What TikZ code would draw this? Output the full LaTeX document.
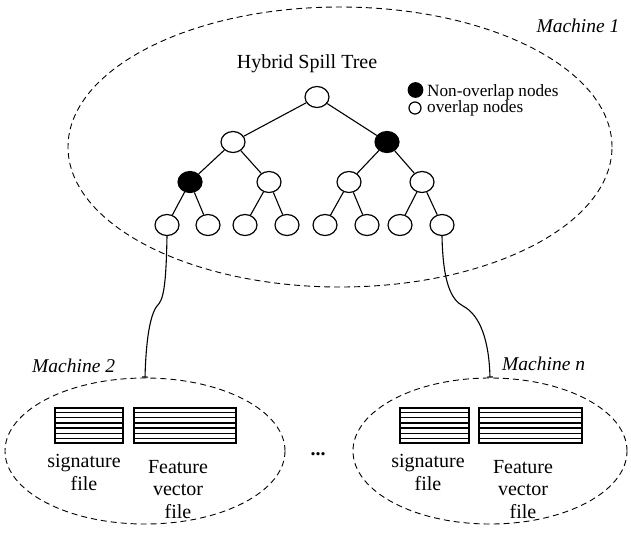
\documentclass[tikz,border=0pt]{standalone}
\usepackage{fontspec}
\setmainfont{Liberation Serif}
\usetikzlibrary{arrows.meta,shapes.geometric,calc}
\begin{document}
\begin{tikzpicture}[x=1pt,y=-1pt,
  tn/.style={draw, ellipse, minimum width=24pt, minimum height=21pt, inner sep=0pt, line width=1.2pt, fill=white},
  bn/.style={tn, fill=black},
  tedge/.style={line width=1.1pt},
  mach/.style={draw, dashed, dash pattern=on 6pt off 4pt, ellipse, line width=0.9pt, inner sep=0pt},
  mlabel/.style={font=\fontsize{19.5}{22}\selectfont\itshape, inner sep=0pt},
  txt/.style={font=\fontsize{20}{22.5}\selectfont, inner sep=0pt, align=center},
  legtxt/.style={font=\fontsize{17.2}{19}\selectfont, inner sep=0pt, anchor=base west},
  filebox/.style={draw, line width=1.4pt, inner sep=0pt, minimum height=35pt},
  conn/.style={line width=1.1pt, -{Bar[width=6pt]}}
]
\useasboundingbox (0,0) rectangle (631,539);

% machine ellipses
\node[mach, minimum width=544pt, minimum height=280pt] (m1) at (340,147) {};
\node[mach, minimum width=280pt, minimum height=146pt] (m2) at (145,451) {};
\node[mach, minimum width=274pt, minimum height=146pt] (mn) at (490,451) {};

% labels
\node[mlabel, anchor=base] (lm1) at (578,32) {Machine 1};
\node[mlabel, anchor=base west] (lm2) at (32,372) {Machine 2};
\node[mlabel, anchor=base west] (lmn) at (502,370) {Machine n};
\node[txt, anchor=base] (title) at (307,68) {Hybrid Spill Tree};

% tree
\node[tn] (r) at (317,97) {};
\node[tn] (a) at (233,142) {};
\node[bn] (b) at (387,142) {};
\node[bn] (aa) at (190,182) {};
\node[tn] (ab) at (269,182) {};
\node[tn] (ba) at (349,182) {};
\node[tn] (bb) at (422,182) {};
\node[tn] (l1) at (167,225) {};
\node[tn] (l2) at (208,225) {};
\node[tn] (l3) at (245,225) {};
\node[tn] (l4) at (287,225) {};
\node[tn] (l5) at (325,225) {};
\node[tn] (l6) at (367,225) {};
\node[tn] (l7) at (400,225) {};
\node[tn] (l8) at (442,225) {};

\draw[tedge] (r) -- (a);
\draw[tedge] (r) -- (b);
\draw[tedge] (a) -- (aa);
\draw[tedge] (a) -- (ab);
\draw[tedge] (b) -- (ba);
\draw[tedge] (b) -- (bb);
\draw[tedge] (aa) -- (l1);
\draw[tedge] (aa) -- (l2);
\draw[tedge] (ab) -- (l3);
\draw[tedge] (ab) -- (l4);
\draw[tedge] (ba) -- (l5);
\draw[tedge] (ba) -- (l6);
\draw[tedge] (bb) -- (l7);
\draw[tedge] (bb) -- (l8);

% legend
\node[bn, minimum width=14.5pt, minimum height=14.5pt] (lgb) at (415.5,90) {};
\node[tn, minimum width=12pt, minimum height=12pt] (lgw) at (415,108) {};
\node[legtxt] (lgbt) at (427,96) {Non-overlap nodes};
\node[legtxt] (lgwt) at (427,112.5) {overlap nodes};

% connectors
\draw[conn] (l1.south) .. controls (166,290) and (163,300) .. (157,306)
  .. controls (150,315) and (146,340) .. (m2.north);
\draw[conn] (l8.south) .. controls (443,285) and (452,300) .. (463,306)
  .. controls (480,315) and (489,340) .. (mn.north);

% files machine 2
\node[filebox, minimum width=68pt] (sig2) at (89,425.5) {};
\node[filebox, minimum width=102pt] (fv2) at (185,425.5) {};
% files machine n
\node[filebox, minimum width=69pt] (sign) at (434.5,425.5) {};
\node[filebox, minimum width=103pt] (fvn) at (530.5,425.5) {};
\foreach \f in {sig2,fv2,sign,fvn}{
  \foreach \i in {1,...,6}{
    \draw[line width=1.4pt] ($(\f.north west)!\i/7!(\f.south west)$) -- ($(\f.north east)!\i/7!(\f.south east)$);
  }
}

\node[txt, anchor=base] (sig2t) at (84,490) {signature\\file};
\node[txt, anchor=base] (fv2t) at (178,518) {Feature\\vector\\file};
\node[txt, anchor=base] (signt) at (428,490) {signature\\file};
\node[txt, anchor=base] (fvnt) at (523,518) {Feature\\vector\\file};

\node[font=\fontsize{20}{20}\selectfont\bfseries, inner sep=0pt, anchor=base] (dots) at (318,455) {...};
\end{tikzpicture}
\end{document}
